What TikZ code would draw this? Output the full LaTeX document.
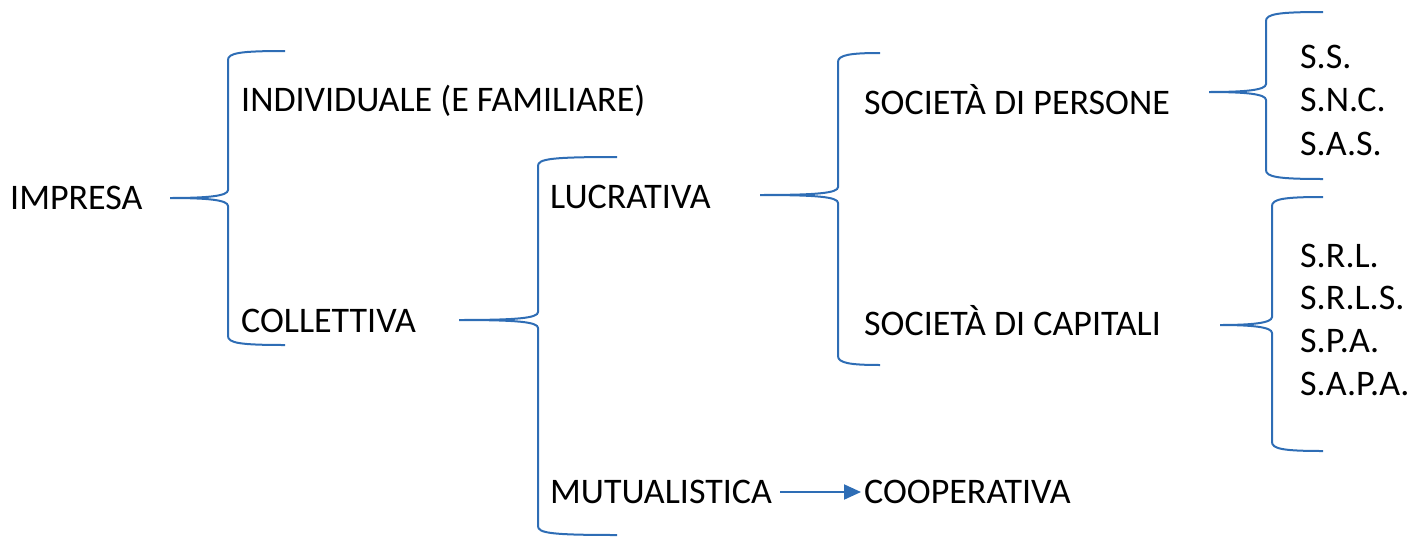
\documentclass[tikz,border=0pt]{standalone}
\usepackage{fontspec}
\setmainfont{Carlito}
\usetikzlibrary{arrows.meta}
\definecolor{bl}{RGB}{46,109,181}
\newcommand{\cbrace}[6]{% tip x, mid y, vertical x, end x, top y, bottom y
  \draw[brc] (#4,#5) .. controls ({#3+12},#5) and (#3,{#5+2}) .. (#3,{#5+9})
    -- (#3,{#2-8}) .. controls (#3,{#2-2}) and ({#3-20},#2) .. (#1,#2)
    .. controls ({#3-20},#2) and (#3,{#2+2}) .. (#3,{#2+8})
    -- (#3,{#6-9}) .. controls (#3,{#6-2}) and ({#3+12},#6) .. (#4,#6);}
\begin{document}
\begin{tikzpicture}[x=1pt,y=-1pt,
  brc/.style={draw=bl,line width=2pt},
  lbl/.style={anchor=west,inner sep=0pt,font=\fontsize{36}{42}\selectfont,text=black}]
\useasboundingbox (0,0) rectangle (1416,536);
\node[lbl] (impresa) at (10,198) {IMPRESA};
\node[lbl] (indiv) at (241,101) {INDIVIDUALE (E FAMILIARE)};
\node[lbl] (coll) at (241,321) {COLLETTIVA};
\node[lbl] (lucr) at (550,197) {LUCRATIVA};
\node[lbl] (mutu) at (550,492) {MUTUALISTICA};
\node[lbl] (coop) at (864,492) {COOPERATIVA};
\node[lbl] (pers) at (864,100) {SOCIETÀ DI PERSONE};
\node[lbl] (capi) at (864,321) {SOCIETÀ DI CAPITALI};
\node[lbl] (ss) at (1300,57) {S.S.};
\node[lbl] (snc) at (1300,100) {S.N.C.};
\node[lbl] (sas) at (1300,144) {S.A.S.};
\node[lbl] (srl) at (1300,256) {S.R.L.};
\node[lbl] (srls) at (1300,298) {S.R.L.S.};
\node[lbl] (spa) at (1300,341) {S.P.A.};
\node[lbl] (sapa) at (1300,384) {S.A.P.A.};
\cbrace{170}{198}{228}{285}{51}{345}
\cbrace{459}{320}{538}{617}{157}{535}
\cbrace{760}{195}{838}{880}{53}{365}
\cbrace{1209}{92}{1266}{1323}{12}{179}
\cbrace{1220}{325}{1272}{1323}{197}{451}
\draw[draw=bl,line width=2pt,-{Triangle[length=17pt,width=15pt]}] ([xshift=8pt]mutu.east) -- ([xshift=-3pt]coop.west);
\end{tikzpicture}
\end{document}
